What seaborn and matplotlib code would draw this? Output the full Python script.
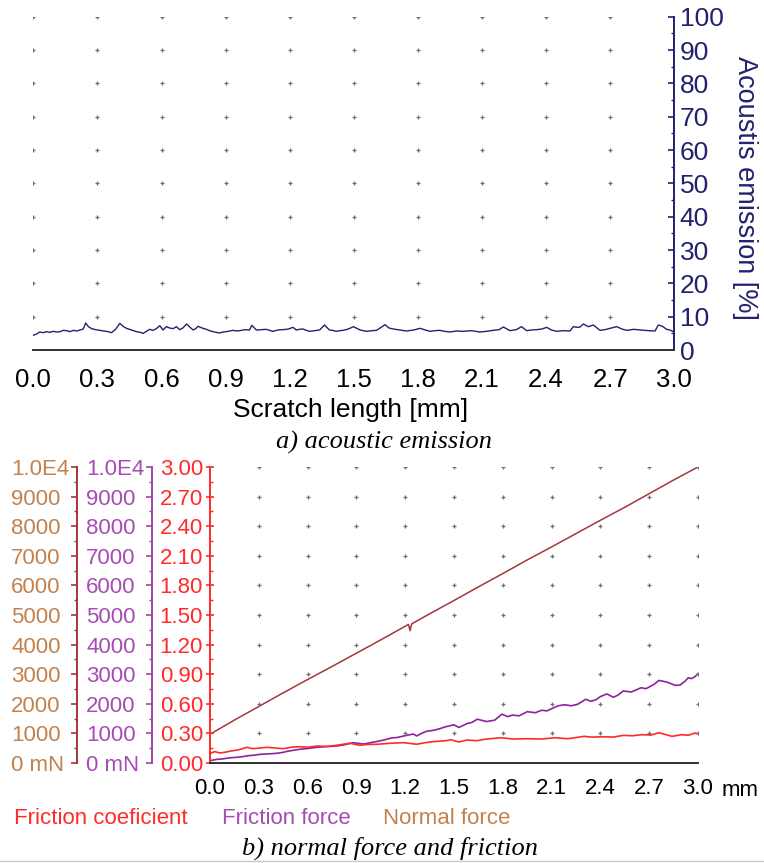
import matplotlib
matplotlib.use("Agg")
import matplotlib.pyplot as plt
import seaborn as sns
import numpy as np
from matplotlib import font_manager
from matplotlib.lines import Line2D
from matplotlib.ticker import MultipleLocator

# ---------------- data ----------------
# a) acoustic emission along the scratch
ae_x = [0.000, 0.015, 0.031, 0.046, 0.062, 0.078, 0.093, 0.109, 0.125, 0.140, 0.156,
        0.171, 0.187, 0.203, 0.218, 0.234, 0.245, 0.258, 0.273, 0.292, 0.312, 0.328,
        0.343, 0.366, 0.385, 0.405, 0.420, 0.436, 0.460, 0.483, 0.500, 0.514, 0.530,
        0.545, 0.560, 0.576, 0.592, 0.607, 0.623, 0.638, 0.654, 0.670, 0.685, 0.700,
        0.717, 0.732, 0.748, 0.760, 0.771, 0.790, 0.810, 0.825, 0.841, 0.856, 0.872,
        0.888, 0.903, 0.920, 0.935, 0.950, 0.966, 0.990, 1.012, 1.023, 1.044, 1.066,
        1.090, 1.105, 1.121, 1.145, 1.168, 1.185, 1.199, 1.215, 1.231, 1.246, 1.262,
        1.278, 1.293, 1.318, 1.340, 1.363, 1.386, 1.400, 1.417, 1.435, 1.450, 1.475,
        1.498, 1.530, 1.560, 1.585, 1.607, 1.646, 1.665, 1.685, 1.715, 1.747, 1.780,
        1.810, 1.835, 1.857, 1.880, 1.903, 1.925, 1.950, 1.980, 2.013, 2.050, 2.070,
        2.091, 2.120, 2.153, 2.180, 2.200, 2.231, 2.260, 2.285, 2.309, 2.330, 2.356,
        2.380, 2.403, 2.425, 2.450, 2.480, 2.512, 2.527, 2.545, 2.559, 2.574, 2.598,
        2.621, 2.652, 2.675, 2.699, 2.730, 2.755, 2.777, 2.810, 2.840, 2.860, 2.880,
        2.910, 2.925, 2.945, 2.964, 2.980, 2.995]
ae_pct = [4.4, 4.8, 5.4, 5.2, 5.5, 5.3, 5.6, 5.4, 5.5, 5.9, 5.8,
          5.5, 5.9, 5.7, 6.0, 6.3, 8.1, 7.0, 6.4, 6.1, 5.9, 5.7,
          5.6, 5.2, 6.2, 8.0, 7.1, 6.5, 6.0, 5.5, 5.3, 5.0, 5.6,
          6.2, 5.9, 6.4, 7.3, 6.0, 7.0, 6.6, 6.4, 7.0, 6.1, 6.6,
          7.8, 6.9, 6.0, 6.4, 7.1, 6.6, 6.2, 5.8, 5.5, 5.3, 5.1,
          5.4, 5.5, 5.7, 5.9, 5.7, 5.8, 6.1, 6.0, 7.4, 6.0, 6.1,
          6.2, 5.9, 5.6, 6.0, 6.1, 6.2, 6.4, 6.8, 6.0, 6.2, 6.3,
          5.9, 5.6, 5.8, 6.0, 7.5, 6.0, 5.9, 5.6, 5.8, 5.9, 6.3,
          7.0, 6.0, 5.6, 5.8, 5.9, 7.6, 6.6, 6.3, 6.0, 5.7, 6.0,
          6.5, 6.0, 5.6, 5.8, 5.9, 5.6, 5.4, 5.7, 5.6, 5.8, 5.6,
          5.4, 5.6, 5.9, 6.1, 6.9, 5.8, 6.1, 7.0, 5.8, 6.0, 6.1,
          6.3, 6.8, 6.0, 5.6, 5.8, 5.7, 7.0, 6.8, 6.9, 7.8, 7.0,
          7.5, 5.9, 6.1, 6.5, 7.0, 6.3, 5.9, 6.2, 6.0, 5.9, 5.8,
          5.7, 7.5, 7.1, 6.2, 6.0, 5.5]

# b) normal force [mN]
fn_x = [0.00, 0.15, 0.30, 0.45, 0.60, 0.75, 0.90, 1.05, 1.20, 1.22, 1.23, 1.24,
        1.35, 1.50, 1.65, 1.80, 1.95, 2.10, 2.25, 2.40, 2.55, 2.70, 2.85, 3.00]
fn_mN = [970, 1450, 1910, 2370, 2820, 3260, 3710, 4160, 4620, 4680, 4470, 4700,
         5040, 5490, 5950, 6400, 6860, 7300, 7750, 8200, 8640, 9100, 9560, 10000]

# b) friction force [mN]
ff_x = [0.00, 0.04, 0.08, 0.12, 0.164, 0.20, 0.24, 0.27, 0.308, 0.35, 0.41, 0.45,
        0.48, 0.55, 0.60, 0.657, 0.72, 0.78, 0.83, 0.88, 0.945, 1.00, 1.03, 1.068,
        1.12, 1.15, 1.19, 1.25, 1.27, 1.30, 1.33, 1.38, 1.417, 1.45, 1.50, 1.53,
        1.58, 1.61, 1.643, 1.70, 1.75, 1.795, 1.83, 1.86, 1.90, 1.95, 2.00, 2.04,
        2.07, 2.10, 2.14, 2.18, 2.22, 2.26, 2.31, 2.34, 2.37, 2.40, 2.44, 2.48,
        2.51, 2.54, 2.59, 2.62, 2.65, 2.68, 2.73, 2.76, 2.81, 2.86, 2.89, 2.92,
        2.94, 2.96, 2.98, 3.00]
ff_mN = [80, 120, 140, 175, 193, 215, 250, 262, 293, 305, 327, 360,
         400, 463, 490, 530, 555, 574, 620, 686, 640, 700, 730, 777,
         850, 860, 912, 980, 913, 1000, 1070, 1110, 1167, 1227, 1290, 1200,
         1333, 1370, 1480, 1400, 1447, 1650, 1567, 1620, 1593, 1733, 1700, 1783,
         1760, 1833, 1933, 1967, 1933, 1983, 2153, 2087, 2130, 2243, 2333, 2220,
         2300, 2433, 2400, 2470, 2543, 2510, 2657, 2790, 2733, 2623, 2633, 2760,
         2880, 2850, 2913, 3017]

# b) friction coefficient
mu_x = [0.00, 0.03, 0.06, 0.09, 0.13, 0.164, 0.19, 0.226, 0.26, 0.29, 0.35, 0.40,
        0.45, 0.50, 0.55, 0.60, 0.66, 0.72, 0.78, 0.86, 0.92, 0.97, 1.03, 1.11,
        1.19, 1.27, 1.32, 1.37, 1.45, 1.48, 1.53, 1.58, 1.64, 1.70, 1.79, 1.86,
        1.95, 2.04, 2.12, 2.20, 2.30, 2.35, 2.40, 2.48, 2.54, 2.60, 2.65, 2.71,
        2.76, 2.84, 2.90, 2.94, 2.98, 3.00]
mu = [0.098, 0.115, 0.102, 0.108, 0.122, 0.130, 0.140, 0.159, 0.146, 0.149, 0.159, 0.152,
      0.145, 0.160, 0.165, 0.160, 0.172, 0.168, 0.180, 0.200, 0.180, 0.188, 0.190, 0.200,
      0.206, 0.190, 0.205, 0.216, 0.226, 0.236, 0.213, 0.233, 0.226, 0.243, 0.256, 0.243,
      0.246, 0.243, 0.256, 0.246, 0.270, 0.262, 0.266, 0.263, 0.280, 0.276, 0.287, 0.283,
      0.307, 0.270, 0.287, 0.281, 0.303, 0.297]

# tick values and labels
length_ticks = [0.0, 0.3, 0.6, 0.9, 1.2, 1.5, 1.8, 2.1, 2.4, 2.7, 3.0]
length_labels = ["0.0", "0.3", "0.6", "0.9", "1.2", "1.5", "1.8", "2.1", "2.4", "2.7", "3.0"]
ae_ticks = [0, 10, 20, 30, 40, 50, 60, 70, 80, 90, 100]
mu_ticks = [0.0, 0.3, 0.6, 0.9, 1.2, 1.5, 1.8, 2.1, 2.4, 2.7, 3.0]
mu_labels = ["0.00", "0.30", "0.60", "0.90", "1.20", "1.50", "1.80", "2.10", "2.40", "2.70", "3.00"]
force_ticks = [0, 1000, 2000, 3000, 4000, 5000, 6000, 7000, 8000, 9000, 10000]
force_labels = ["0 mN", "1000", "2000", "3000", "4000", "5000", "6000", "7000", "8000", "9000", "1.0E4"]

# ---------------- style ----------------
sns.set_style("white")
plt.rcParams["font.family"] = ["Liberation Sans", "DejaVu Sans"]
installed = {f.name for f in font_manager.fontManager.ttflist}
narrow = "Liberation Sans Narrow" if "Liberation Sans Narrow" in installed else None

NAVY = "#22226e"
AXIS = "#333333"
RED = "#ff2a2a"
PURPLE_TXT = "#a64cb4"
PURPLE_LINE = "#8e22a0"
BROWN_TXT = "#c2824e"
BROWN_LINE = "#a3373c"
DOT = "#6f6f6f"

fig = plt.figure(figsize=(7.64, 8.63), dpi=100)
W, H = 764.0, 863.0


def rect(x0, y_top, x1, y_bot):
    return [x0 / W, 1 - y_bot / H, (x1 - x0) / W, (y_bot - y_top) / H]


# ---------------- a) acoustic emission ----------------
ax_ae = fig.add_axes(rect(33.3, 16.7, 674.3, 350))
gx, gy = np.meshgrid(length_ticks[:-1], ae_ticks[1:])
ax_ae.scatter(gx.ravel(), gy.ravel(), marker="+", s=9, linewidths=0.9, color=DOT, zorder=1)
sns.lineplot(x=ae_x, y=ae_pct, ax=ax_ae, color=NAVY, linewidth=1.0, zorder=3)
ax_ae.set_xlim(0, 3)
ax_ae.set_ylim(0, 100)
ax_ae.set_xlabel("")
ax_ae.set_ylabel("")
for s in ["top", "left"]:
    ax_ae.spines[s].set_visible(False)
ax_ae.spines["bottom"].set_color(AXIS)
ax_ae.spines["bottom"].set_linewidth(1.4)
ax_ae.spines["right"].set_color(NAVY)
ax_ae.spines["right"].set_linewidth(1.4)

ax_ae.set_xticks(length_ticks)
if narrow:
    ax_ae.set_xticklabels(length_labels, fontsize=21.5, family=[narrow, "DejaVu Sans"])
else:
    ax_ae.set_xticklabels(length_labels, fontsize=18.5)
ax_ae.xaxis.set_minor_locator(MultipleLocator(0.15))
ax_ae.tick_params(axis="x", which="major", direction="out", length=8, width=1.2,
                  color=AXIS, labelcolor="black", pad=5)
ax_ae.tick_params(axis="x", which="minor", direction="out", length=3.8, width=1.0, color=AXIS)

ax_ae.yaxis.tick_right()
ax_ae.set_yticks(ae_ticks)
ax_ae.set_yticklabels([str(v) for v in ae_ticks], fontsize=19)
ax_ae.yaxis.set_minor_locator(MultipleLocator(5))
ax_ae.tick_params(axis="y", which="major", direction="in", length=4.5, width=1.2,
                  color=NAVY, labelcolor=NAVY, pad=4)
ax_ae.tick_params(axis="y", which="minor", direction="in", length=2.5, width=1.0, color=NAVY)

fig.text(745 / W, 1 - 188 / H, "Acoustis emission [%]", rotation=270, ha="center",
         va="center", color=NAVY, fontsize=19.5)
fig.text(351 / W, 1 - 410 / H, "Scratch length [mm]", ha="center", va="center",
         color="black", fontsize=19)
fig.text(384 / W, 1 - 442 / H, "a) acoustic emission", ha="center", va="center",
         color="black", fontsize=19, style="italic", family=["Liberation Serif", "DejaVu Serif"])

# ---------------- b) normal force and friction ----------------
ax_mu = fig.add_axes(rect(210, 467, 698, 763))
bx, by = np.meshgrid(length_ticks[1:], mu_ticks[1:])
ax_mu.scatter(bx.ravel(), by.ravel(), marker="+", s=9, linewidths=0.9, color=DOT, zorder=1)

ax_ff = ax_mu.twinx()
ax_fn = ax_mu.twinx()

sns.lineplot(x=fn_x, y=fn_mN, ax=ax_fn, color=BROWN_LINE, linewidth=1.1)
sns.lineplot(x=ff_x, y=ff_mN, ax=ax_ff, color=PURPLE_LINE, linewidth=1.2)
sns.lineplot(x=mu_x, y=mu, ax=ax_mu, color=RED, linewidth=1.2, zorder=3)

ax_mu.set_xlim(0, 3)
ax_mu.set_ylim(0, 3)
ax_ff.set_ylim(0, 10000)
ax_fn.set_ylim(0, 10000)
for a in (ax_mu, ax_ff, ax_fn):
    a.set_xlabel("")
    a.set_ylabel("")
    a.spines["top"].set_visible(False)
    a.spines["right"].set_visible(False)
ax_mu.set_zorder(3)
ax_mu.patch.set_visible(False)

# friction coefficient axis (red)
ax_mu.spines["left"].set_color(RED)
ax_mu.spines["left"].set_linewidth(1.4)
ax_mu.spines["bottom"].set_color(AXIS)
ax_mu.spines["bottom"].set_linewidth(1.4)
ax_mu.set_yticks(mu_ticks)
ax_mu.set_yticklabels(mu_labels, fontsize=16)
ax_mu.yaxis.set_minor_locator(MultipleLocator(0.15))
ax_mu.tick_params(axis="y", which="major", direction="inout", length=6, width=1.2,
                  color=RED, labelcolor=RED, pad=2)
ax_mu.tick_params(axis="y", which="minor", direction="in", length=2.5, width=1.0, color=RED)

ax_mu.set_xticks(length_ticks)
ax_mu.set_xticklabels(length_labels, fontsize=16)
ax_mu.xaxis.set_minor_locator(MultipleLocator(0.15))
ax_mu.tick_params(axis="x", which="major", direction="out", length=6, width=1.2,
                  color=AXIS, labelcolor="black", pad=5)
ax_mu.tick_params(axis="x", which="minor", direction="out", length=3, width=1.0, color=AXIS)
ax_mu.annotate("mm", xy=(1, 0), xycoords="axes fraction", xytext=(17, -19.5),
               textcoords="offset points", ha="left", va="center", fontsize=16, color="black")

# offset force axes on the left
for a, pos, spine_col, txt_col in ((ax_ff, -0.1189, "#a443aa", PURPLE_TXT),
                                   (ax_fn, -0.2725, BROWN_LINE, BROWN_TXT)):
    a.yaxis.set_ticks_position("left")
    a.yaxis.set_label_position("left")
    a.spines["left"].set_visible(True)
    a.spines["left"].set_position(("axes", pos))
    a.spines["left"].set_color(spine_col)
    a.spines["left"].set_linewidth(1.4)
    a.spines["bottom"].set_visible(False)
    a.set_yticks(force_ticks)
    a.set_yticklabels(force_labels, fontsize=16)
    a.yaxis.set_minor_locator(MultipleLocator(500))
    a.tick_params(axis="y", which="major", direction="out", length=4.5, width=1.2,
                  color=spine_col, labelcolor=txt_col, pad=43)
    a.tick_params(axis="y", which="minor", direction="out", length=2.5, width=1.0,
                  color=spine_col)
    for lab in a.get_yticklabels():
        lab.set_horizontalalignment("left")

fig.text(14 / W, 1 - 818 / H, "Friction coeficient", ha="left", va="center",
         color=RED, fontsize=16)
fig.text(222 / W, 1 - 818 / H, "Friction force", ha="left", va="center",
         color=PURPLE_TXT, fontsize=16)
fig.text(383 / W, 1 - 818 / H, "Normal force", ha="left", va="center",
         color=BROWN_TXT, fontsize=16)
fig.text(390 / W, 1 - 848 / H, "b) normal force and friction", ha="center", va="center",
         color="black", fontsize=19, style="italic", family=["Liberation Serif", "DejaVu Serif"])

fig.add_artist(Line2D([0, 1], [1 - 860.5 / H, 1 - 860.5 / H], transform=fig.transFigure,
                      color="#c8c8c8", linewidth=1.0))

fig.savefig("out.png", dpi=100)
